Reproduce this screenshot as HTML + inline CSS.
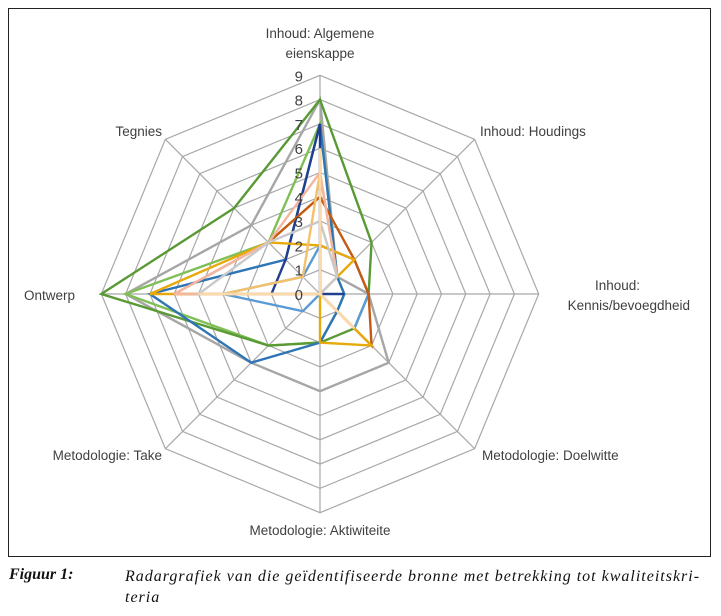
<!DOCTYPE html>
<html><head><meta charset="utf-8"><style>
body{margin:0;width:721px;height:616px;background:#fff;overflow:hidden;font-family:"Liberation Sans",sans-serif}
#frame{position:absolute;left:8px;top:8px;width:703px;height:549px;border:1px solid #222;box-sizing:border-box}
.cap{position:absolute;font-family:"Liberation Serif",serif;font-style:italic;font-size:16px;color:#111}
</style></head><body>
<div id="frame"></div>
<svg id="chart" width="721" height="616" style="position:absolute;left:0;top:0"></svg>
<div class="cap" style="left:9px;top:566px;font-weight:bold">Figuur 1:</div>
<div class="cap" style="left:125px;top:566px;line-height:21px;width:600px;letter-spacing:1px">Radargrafiek van die geïdentifiseerde bronne met betrekking tot kwaliteitskri-<br>teria</div>
<script>
const categories=["Inhoud: Algemene eienskappe","Inhoud: Houdings","Inhoud: Kennis/bevoegdheid","Metodologie: Doelwitte","Metodologie: Aktiwiteite","Metodologie: Take","Ontwerp","Tegnies"];
const ticks=[0,1,2,3,4,5,6,7,8,9];
const seriesColors=["#a6a6a6","#5a9a35","#7fbf55","#2e75b6","#1f3f8f","#5b9bd5","#c55a11","#e8a90c","#f4c06a","#f4b6a0","#c9c9c9","#fcd9a8"];
const sGray=[8,1,2,4,4,4,8,4];
const sGreen=[8,3,2,2,2,3,9,5];
const sGreen2=[7,1,1,1,2,3,8,3];
const sBlue=[7,1,1,1,2,4,7,2];
const sDarkBlue=[7,0,1,0,0,0,2,2];
const sLightBlue=[2,2,2,2,0,1,4,1];
const sBrown=[4,2,2,3,0,0,6,3];
const sGold=[2,2,0,3,2,0,7,3];
const sGoldLight=[5,1,0,2,0,0,4,1];
const sPeach=[5,1,0,1,0,0,6,3];
const sLightGray=[3,1,0,0,0,0,5,3];
const sBeige=[6,0,0,2,0,0,5,0];
const series=[sGray,sGreen2,sGreen,sBlue,sDarkBlue,sLightBlue,sBrown,sGold,sGoldLight,sPeach,sLightGray,sBeige];
const colorOrder=[0,2,1,3,4,5,6,7,8,9,10,11];
const NS="http://www.w3.org/2000/svg";
const svg=document.getElementById('chart');
const cx=320,cy=294,unit=24.3,maxV=9;
function ang(i){return -Math.PI/2+i*2*Math.PI/categories.length;}
function pt(i,v){return [cx+Math.cos(ang(i))*v*unit,cy+Math.sin(ang(i))*v*unit];}
function mk(t,a){const e=document.createElementNS(NS,t);for(const k in a)e.setAttribute(k,a[k]);svg.appendChild(e);return e;}
for(let l=1;l<=maxV;l++){
  const p=categories.map((c,i)=>pt(i,l).join(',')).join(' ');
  const g=mk('polygon',{points:p,fill:'none',stroke:'#a8a8a8','stroke-width':1.2});
  
  
}
categories.forEach((c,i)=>{
  const [x,y]=pt(i,maxV);
  const a=mk('line',{x1:cx,y1:cy,x2:x,y2:y,stroke:'#a8a8a8','stroke-width':1.2});
  
  
});
series.forEach((s,k)=>{
  const p=s.map((v,i)=>pt(i,v).join(',')).join(' ');
  const e=mk('polygon',{points:p,fill:'none',stroke:seriesColors[colorOrder[k]],'stroke-width':2.4,'stroke-linejoin':'miter'});
  
  
});
ticks.forEach(t=>{
  const e=mk('text',{x:cx-17,y:cy-t*unit+6,'text-anchor':'end','font-size':15,fill:'#404040','font-family':'Liberation Sans, sans-serif'});
  e.textContent=t;
  
  
});
const labelPos=[[[320,38,'middle',"Inhoud: Algemene"],[320,58,'middle',"eienskappe"]],[[480,136,'start',"Inhoud: Houdings"]],[[640,290,'end',"Inhoud:"],[690,310,'end',"Kennis/bevoegdheid"]],[[482,460,'start',"Metodologie: Doelwitte"]],[[320,535,'middle',"Metodologie: Aktiwiteite"]],[[162,460,'end',"Metodologie: Take"]],[[75,300,'end',"Ontwerp"]],[[162,136,'end',"Tegnies"]]];
labelPos.forEach(L=>L.forEach(([x,y,an,t])=>{
  const e=mk('text',{x:x,y:y,'text-anchor':an,'font-size':13.5,fill:'#404040','font-family':'Liberation Sans, sans-serif'});
  e.textContent=t;
  
  
}));
</script>
</body></html>
